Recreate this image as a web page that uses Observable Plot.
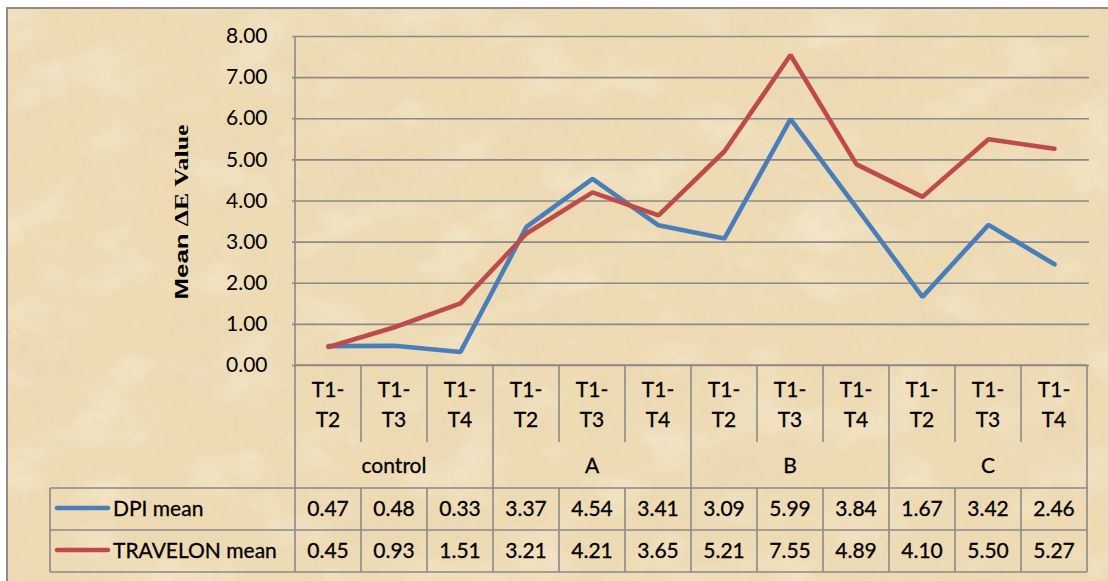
<!DOCTYPE html>
<html>
<head>
<meta charset="utf-8">
<script src="https://cdn.jsdelivr.net/npm/d3@7"></script>
<script src="https://cdn.jsdelivr.net/npm/@observablehq/plot@0.6"></script>
<style>
  html, body { margin: 0; padding: 0; background: #ffffff; }
  #chart svg { display: block; }
</style>
</head>
<body>
<div id="chart"></div>
<script>
// ---- Data ----
const groups = ["control", "A", "B", "C"];
const periods = ["T1-T2", "T1-T3", "T1-T4"];
const periodLines = [["T1-", "T2"], ["T1-", "T3"], ["T1-", "T4"]];
const dpiMean = [0.47, 0.48, 0.33, 3.37, 4.54, 3.41, 3.09, 5.99, 3.84, 1.67, 3.42, 2.46];
const travelonMean = [0.45, 0.93, 1.51, 3.21, 4.21, 3.65, 5.21, 7.55, 4.89, 4.10, 5.50, 5.27];
const seriesNames = ["DPI mean", "TRAVELON mean"];
const seriesColors = ["#4A7EBB", "#BE4B48"];
const yTicks = [0, 1, 2, 3, 4, 5, 6, 7, 8];
const yTitle = ["Mean ", "ΔE Value"];

// ---- Derived table ----
const keys = groups.flatMap(g => periods.map(p => g + "|" + p));
const rows = keys.map((k, i) => ({
  key: k,
  group: groups[Math.floor(i / periods.length)],
  pIndex: i % periods.length,
  dpi: dpiMean[i],
  trav: travelonMean[i]
}));
const seriesValues = [dpiMean, travelonMean];

const W = 1108, H = 581;
const FONT = "Lato, 'Open Sans', sans-serif";
const GRID = "#8a8a8a";

const chart = Plot.plot({
  width: W,
  height: H,
  marginLeft: 292,
  marginRight: 19,
  marginTop: 36,
  marginBottom: 216,
  style: { fontFamily: FONT, fontSize: "21px", background: "none", color: "#000", overflow: "visible" },
  x: { type: "point", domain: keys, padding: 0.5, axis: null },
  y: { domain: [0, 8] },
  marks: [
    Plot.gridY(yTicks, { stroke: GRID, strokeOpacity: 1, strokeWidth: 1.6 }),
    Plot.axisY(yTicks, { tickSize: 0, tickPadding: 25, tickFormat: d => d.toFixed(2), fontSize: 21, label: null, fill: "#000", stroke: "#000", strokeWidth: 0.3 }),
    Plot.line(rows, { x: "key", y: "dpi", stroke: seriesColors[0], strokeWidth: 4.6, strokeLinecap: "round", strokeLinejoin: "miter" }),
    Plot.line(rows, { x: "key", y: "trav", stroke: seriesColors[1], strokeWidth: 4.6, strokeLinecap: "round", strokeLinejoin: "miter" })
  ]
});

document.getElementById("chart").appendChild(chart);

// ---- Scales from the plot ----
const xs = chart.scale("x");
const ys = chart.scale("y");
const cx = k => xs.apply(k);
const step = cx(keys[1]) - cx(keys[0]);
const left = cx(keys[0]) - step / 2;
const right = cx(keys[keys.length - 1]) + step / 2;
const y0 = ys.apply(0);
const yTop = ys.apply(8);

const svg = d3.select(chart);

// ---- Background (parchment) ----
const defs = svg.insert("defs", ":first-child");
function noiseFilter(id, freq, oct, seed, rgb, a, b) {
  const f = defs.append("filter").attr("id", id)
    .attr("x", 0).attr("y", 0).attr("width", 1).attr("height", 1);
  f.append("feTurbulence").attr("type", "fractalNoise")
    .attr("baseFrequency", freq).attr("numOctaves", oct).attr("seed", seed);
  f.append("feColorMatrix").attr("type", "matrix")
    .attr("values", `0 0 0 0 ${rgb[0]} 0 0 0 0 ${rgb[1]} 0 0 0 0 ${rgb[2]} ${a} 0 0 0 ${b}`);
}
noiseFilter("darkNoise", "0.012 0.018", 5, 3, [0.82, 0.66, 0.44], 2.0, -0.85);
noiseFilter("lightNoise", "0.014 0.02", 5, 11, [0.98, 0.92, 0.80], 2.0, -0.95);
noiseFilter("grain", "0.1", 2, 5, [0.80, 0.64, 0.44], 1.6, -0.7);

const bg = svg.insert("g", "defs + *");
bg.append("rect").attr("x", 0).attr("y", 0).attr("width", W).attr("height", H).attr("fill", "#ffffff");
bg.append("rect").attr("x", 7).attr("y", 8).attr("width", W + 10).attr("height", H + 10).attr("fill", "#EEDBB4");
bg.append("rect").attr("x", 7).attr("y", 8).attr("width", W + 10).attr("height", H + 10).attr("filter", "url(#darkNoise)").attr("opacity", 0.5);
bg.append("rect").attr("x", 7).attr("y", 8).attr("width", W + 10).attr("height", H + 10).attr("filter", "url(#lightNoise)").attr("opacity", 0.45);
bg.append("rect").attr("x", 7).attr("y", 8).attr("width", W + 10).attr("height", H + 10).attr("filter", "url(#grain)").attr("opacity", 0.3);
bg.append("rect").attr("x", 7).attr("y", 8).attr("width", W + 10).attr("height", H + 10)
  .attr("fill", "none").attr("stroke", "#8c8c8c").attr("stroke-width", 2);

// ---- Y-axis title ----
const yt = svg.append("text")
  .attr("transform", `translate(${182},${212}) rotate(-90)`)
  .attr("text-anchor", "middle")
  .attr("dy", "0.35em")
  .attr("textLength", 175)
  .attr("lengthAdjust", "spacingAndGlyphs")
  .attr("font-size", 18)
  .attr("font-weight", "bold")
  .attr("fill", "#000");
yt.append("tspan").attr("font-family", "'Liberation Sans', Arial, sans-serif").text(yTitle[0]);
yt.append("tspan").attr("font-family", "'Liberation Serif', 'Times New Roman', serif").text(yTitle[1]);

// ---- Table ----
const catBottom = y0 + 77;
const groupBottom = y0 + 123;
const rowH = 42;
const tableBottom = groupBottom + rowH * seriesNames.length;
const legendLeft = 50;

const tbl = svg.append("g").attr("stroke", GRID).attr("stroke-width", 1.6).attr("fill", "none");
tbl.append("line").attr("x1", left).attr("x2", left).attr("y1", yTop).attr("y2", tableBottom);
tbl.append("line").attr("x1", left).attr("x2", right).attr("y1", y0).attr("y2", y0);
tbl.append("line").attr("x1", right).attr("x2", right).attr("y1", y0).attr("y2", tableBottom);
keys.forEach((k, i) => {
  if (i === 0) return;
  const x = cx(k) - step / 2;
  const isGroupEdge = i % periods.length === 0;
  if (isGroupEdge) {
    tbl.append("line").attr("x1", x).attr("x2", x).attr("y1", y0).attr("y2", tableBottom);
  } else {
    tbl.append("line").attr("x1", x).attr("x2", x).attr("y1", y0).attr("y2", catBottom);
    tbl.append("line").attr("x1", x).attr("x2", x).attr("y1", groupBottom).attr("y2", tableBottom);
  }
});
[groupBottom, groupBottom + rowH, tableBottom].forEach(y => {
  tbl.append("line").attr("x1", legendLeft).attr("x2", right).attr("y1", y).attr("y2", y);
});
tbl.append("line").attr("x1", legendLeft).attr("x2", legendLeft).attr("y1", groupBottom).attr("y2", tableBottom);

const txt = svg.append("g").attr("font-family", FONT).attr("font-size", 21)
  .attr("fill", "#000").attr("stroke", "#000").attr("stroke-width", 0.3).attr("text-anchor", "middle");
rows.forEach(r => {
  periodLines[r.pIndex].forEach((s, j) => {
    txt.append("text").attr("x", cx(r.key)).attr("y", y0 + 25 + j * 30).attr("dy", "0.35em").text(s);
  });
});
groups.forEach((g, gi) => {
  const ks = keys.slice(gi * periods.length, (gi + 1) * periods.length);
  const mid = (cx(ks[0]) + cx(ks[ks.length - 1])) / 2;
  txt.append("text").attr("x", mid).attr("y", y0 + 101).attr("dy", "0.35em").text(g);
});
seriesValues.forEach((vals, si) => {
  const yc = groupBottom + rowH * si + rowH / 2;
  vals.forEach((v, i) => {
    txt.append("text").attr("x", cx(keys[i])).attr("y", yc).attr("dy", "0.35em").text(v.toFixed(2));
  });
  svg.append("line").attr("x1", 57).attr("x2", 108).attr("y1", yc - 1).attr("y2", yc - 1)
    .attr("stroke", seriesColors[si]).attr("stroke-width", 4.6).attr("stroke-linecap", "round");
  txt.append("text").attr("x", 113).attr("y", yc).attr("dy", "0.35em")
    .attr("text-anchor", "start").text(seriesNames[si]);
});
</script>
</body>
</html>
